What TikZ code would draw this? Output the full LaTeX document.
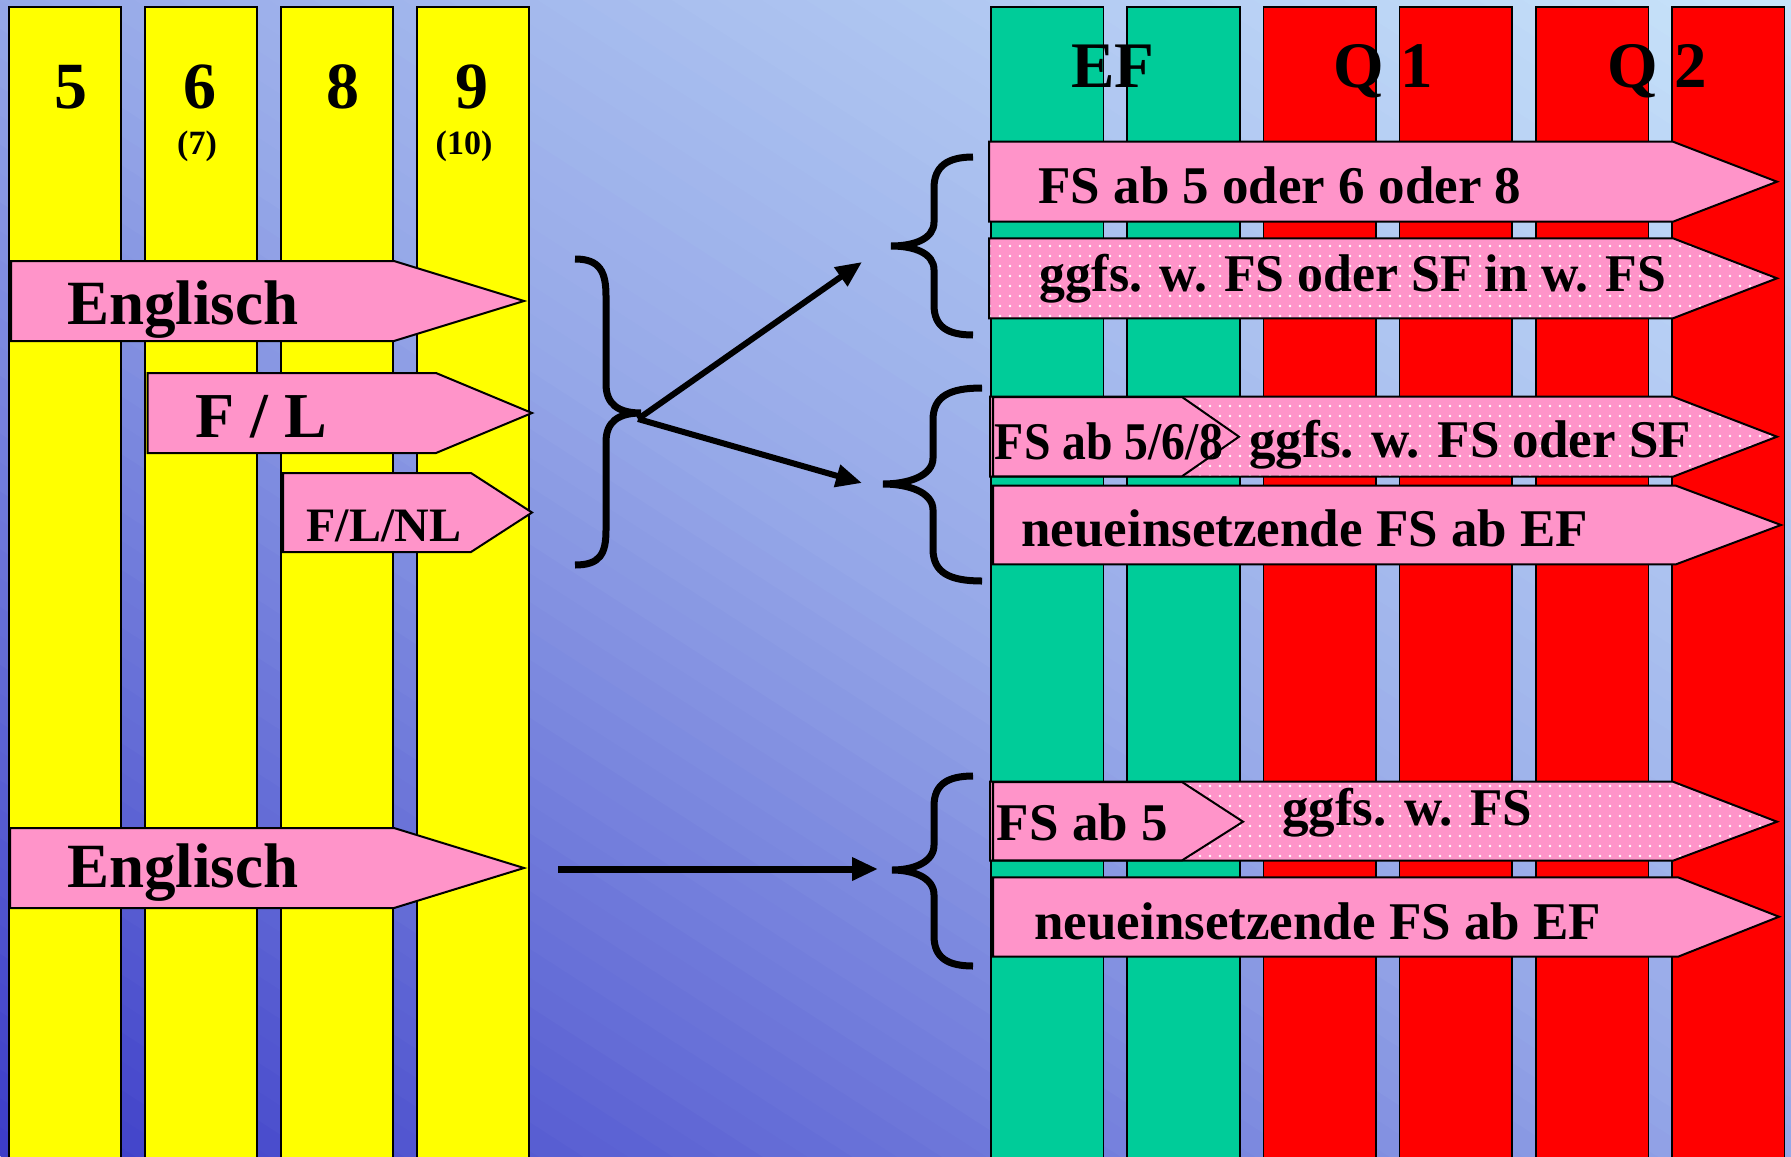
\documentclass[tikz,border=0pt]{standalone}
\usepackage{fontspec}
\setmainfont{Liberation Serif}
\usetikzlibrary{arrows.meta,patterns}
\definecolor{bgA}{RGB}{60,60,200}
\definecolor{bgB}{RGB}{150,168,232}
\definecolor{bgC}{RGB}{200,228,250}
\definecolor{colyellow}{RGB}{255,255,0}
\definecolor{colgreen}{RGB}{0,204,153}
\definecolor{colred}{RGB}{255,0,0}
\definecolor{pinkA}{RGB}{255,148,201}
\pgfdeclarepatternformonly{pinkdots}{\pgfqpoint{-1pt}{-1pt}}{\pgfqpoint{1pt}{1pt}}{\pgfqpoint{5pt}{5pt}}{\pgfpathcircle{\pgfpointorigin}{0.7pt}\pgfusepath{fill}}
\newcommand\fsz[1]{\fontsize{#1}{#1}\selectfont\bfseries}
\begin{document}
\begin{tikzpicture}[x=0.5pt,y=-0.5pt,
  column/.style={draw=black, line width=0.8pt},
  pinkshape/.style={fill=pinkA, draw=black, line width=1pt, line join=miter},
  dotshape/.style={fill=pinkA, postaction={pattern=pinkdots, pattern color=white!97!pinkA}, postaction={draw=black, line width=1pt}},
  lbl/.style={inner sep=0pt, text=black},
  brace/.style={draw=black, line width=3.5pt, line cap=butt},
  conn/.style={draw=black, line width=3pt, -{Triangle[length=13pt,width=11pt]}}
]
\useasboundingbox (0,0) rectangle (1791,1156);
% background gradient
\begin{scope}
\clip (0,0) rectangle (1791,1156);
\begin{scope}[shift={(0,1156)}, x=895.5pt, y=578pt]
\foreach \i in {0,...,79}{
  \pgfmathsetmacro\sa{\i/40}
  \pgfmathsetmacro\sb{(\i+1.4)/40}
  \ifnum\i<40
    \pgfmathtruncatemacro\p{round(100*(\i+0.5)/40)}
    \colorlet{bgcur}{bgB!\p!bgA}
  \else
    \pgfmathtruncatemacro\p{round(100*(\i-39.5)/40)}
    \colorlet{bgcur}{bgC!\p!bgB}
  \fi
  \fill[bgcur] (\sa+1,-1) -- (\sb+1,-1) -- (\sb-2,2) -- (\sa-2,2) -- cycle;
}
\end{scope}
\end{scope}
% columns
\foreach \xa in {9,145,281,417} \draw[column, fill=colyellow] (\xa,7.3) rectangle ++(112,1170);
\foreach \k in {0,1} \draw[column, fill=colgreen] (991+136.2*\k,7.3) rectangle ++(112.5,1170);
\foreach \k in {2,3,4,5} \draw[column, fill=colred] (991+136.2*\k,7.3) rectangle ++(112.5,1170);
% grade numbers
\node[lbl, anchor=base] (n5) at (71,108) {\fsz{33pt}5};
\node[lbl, anchor=base] (n6) at (200,108) {\fsz{33pt}6};
\node[lbl, anchor=base] (n8) at (343,108) {\fsz{33pt}8};
\node[lbl, anchor=base] (n9) at (471.5,108) {\fsz{33pt}9};
\node[lbl, anchor=base] (n7) at (197,154) {\fsz{17pt}(7)};
\node[lbl, anchor=base] (n10) at (464,154) {\fsz{17pt}(10)};
\node[lbl, anchor=base] (ef) at (1113,88) {\fsz{32.5pt}EF};
\node[lbl, anchor=base] (q1) at (1383.5,88) {\fsz{32.5pt}Q 1};
\node[lbl, anchor=base] (q2) at (1657.5,88) {\fsz{32.5pt}Q 2};
% left arrows
\draw[pinkshape] (11,261) -- (394,261) -- (524,301) -- (394,341) -- (11,341) -- cycle;
\draw[pinkshape] (147.5,373) -- (436,373) -- (532,413) -- (436,453) -- (147.5,453) -- cycle;
\draw[pinkshape] (283,473) -- (471,473) -- (532,512.5) -- (471,552) -- (283,552) -- cycle;
\draw[pinkshape] (10,828) -- (394,828) -- (524,868) -- (394,908) -- (10,908) -- cycle;
\node[lbl, anchor=base west] (eng1) at (67,324) {\fsz{31.5pt}Englisch};
\node[lbl, anchor=base west] (fl) at (195,437.7) {\fsz{32pt}F / L};
\node[lbl, anchor=base west] (flnl) at (306,541) {\fsz{24pt}F/L/NL};
\node[lbl, anchor=base west] (eng2) at (67,887.3) {\fsz{31.5pt}Englisch};
% right arrows
\draw[pinkshape] (989,141.7) -- (1673,141.7) -- (1777,181.7) -- (1673,221.7) -- (989,221.7) -- cycle;
\path[dotshape] (989,238.3) -- (1673,238.3) -- (1777,278.3) -- (1673,318.3) -- (989,318.3) -- cycle;
\path[dotshape] (990,396.7) -- (1673,396.7) -- (1777,436.7) -- (1673,476.7) -- (990,476.7) -- cycle;
\draw[pinkshape] (993,397) -- (1182,397) -- (1239,436.7) -- (1182,476.3) -- (993,476.3) -- cycle;
\draw[pinkshape] (993,485.7) -- (1676,485.7) -- (1781,525) -- (1676,564.3) -- (993,564.3) -- cycle;
\path[dotshape] (990,781.7) -- (1673,781.7) -- (1777,821.7) -- (1673,860.7) -- (990,860.7) -- cycle;
\draw[pinkshape] (993,782) -- (1182,782) -- (1243,821.7) -- (1182,860.4) -- (993,860.4) -- cycle;
\draw[pinkshape] (993,877.3) -- (1678,877.3) -- (1779,916.7) -- (1678,956.7) -- (993,956.7) -- cycle;
\node[lbl, anchor=base west] (t1) at (1038,203.3) {\fsz{26.5pt}FS ab 5 oder 6 oder 8};
\node[lbl, anchor=base west] (t2) at (1039.5,291.7) {\scalebox{0.978}[1]{\fsz{26.5pt}ggfs. w. FS oder SF in w. FS}};
\node[lbl, anchor=base west] (t3a) at (994.5,459.3) {\scalebox{0.9}[1]{\fsz{26.5pt}FS ab 5/6/8}};
\node[lbl, anchor=base west] (t3b) at (1249,457.7) {\fsz{26.5pt}ggfs. w. FS oder SF};
\node[lbl, anchor=base west] (t4) at (1021,546.7) {\fsz{26.5pt}neueinsetzende FS ab EF};
\node[lbl, anchor=base west] (t5a) at (996.5,840.7) {\fsz{26.5pt}FS ab 5};
\node[lbl, anchor=base west] (t5b) at (1281.6,825) {\fsz{26.5pt}ggfs. w. FS};
\node[lbl, anchor=base west] (t6) at (1034,939) {\fsz{26.5pt}neueinsetzende FS ab EF};
% braces
\draw[brace] (575,259) .. controls (600,259) and (606,272) .. (606,296) -- (606,384) .. controls (606,404) and (618,413) .. (641,413) .. controls (618,413) and (606,422) .. (606,442) -- (606,530) .. controls (606,554) and (600,565) .. (575,565);
\draw[brace] (973,157) .. controls (948,157) and (934,166) .. (934,188) -- (934,222) .. controls (934,239) and (914,246) .. (891,246) .. controls (914,246) and (934,253) .. (934,270) -- (934,305) .. controls (934,327) and (948,335) .. (973,335);
\draw[brace] (982,388) .. controls (950,388) and (933,396) .. (933,420) -- (933,458) .. controls (933,476) and (908,484) .. (883,484) .. controls (908,484) and (933,492) .. (933,510) -- (933,549) .. controls (933,573) and (950,581) .. (982,581);
\draw[brace] (973,776) .. controls (948,776) and (934,784) .. (934,806) -- (934,845) .. controls (934,862) and (914,870) .. (892,870) .. controls (914,870) and (934,878) .. (934,895) -- (934,936) .. controls (934,958) and (948,966) .. (973,966);
% connectors
\coordinate (fork) at (638,419);
\coordinate (upend) at (862,262);
\coordinate (downend) at (862,483);
\coordinate (hstart) at (558,869);
\coordinate (hend) at (878,869);
\draw[conn] (fork) -- (upend);
\draw[conn] (fork) -- (downend);
\draw[conn, line width=3.5pt] (hstart) -- (hend);
\end{tikzpicture}
\end{document}
